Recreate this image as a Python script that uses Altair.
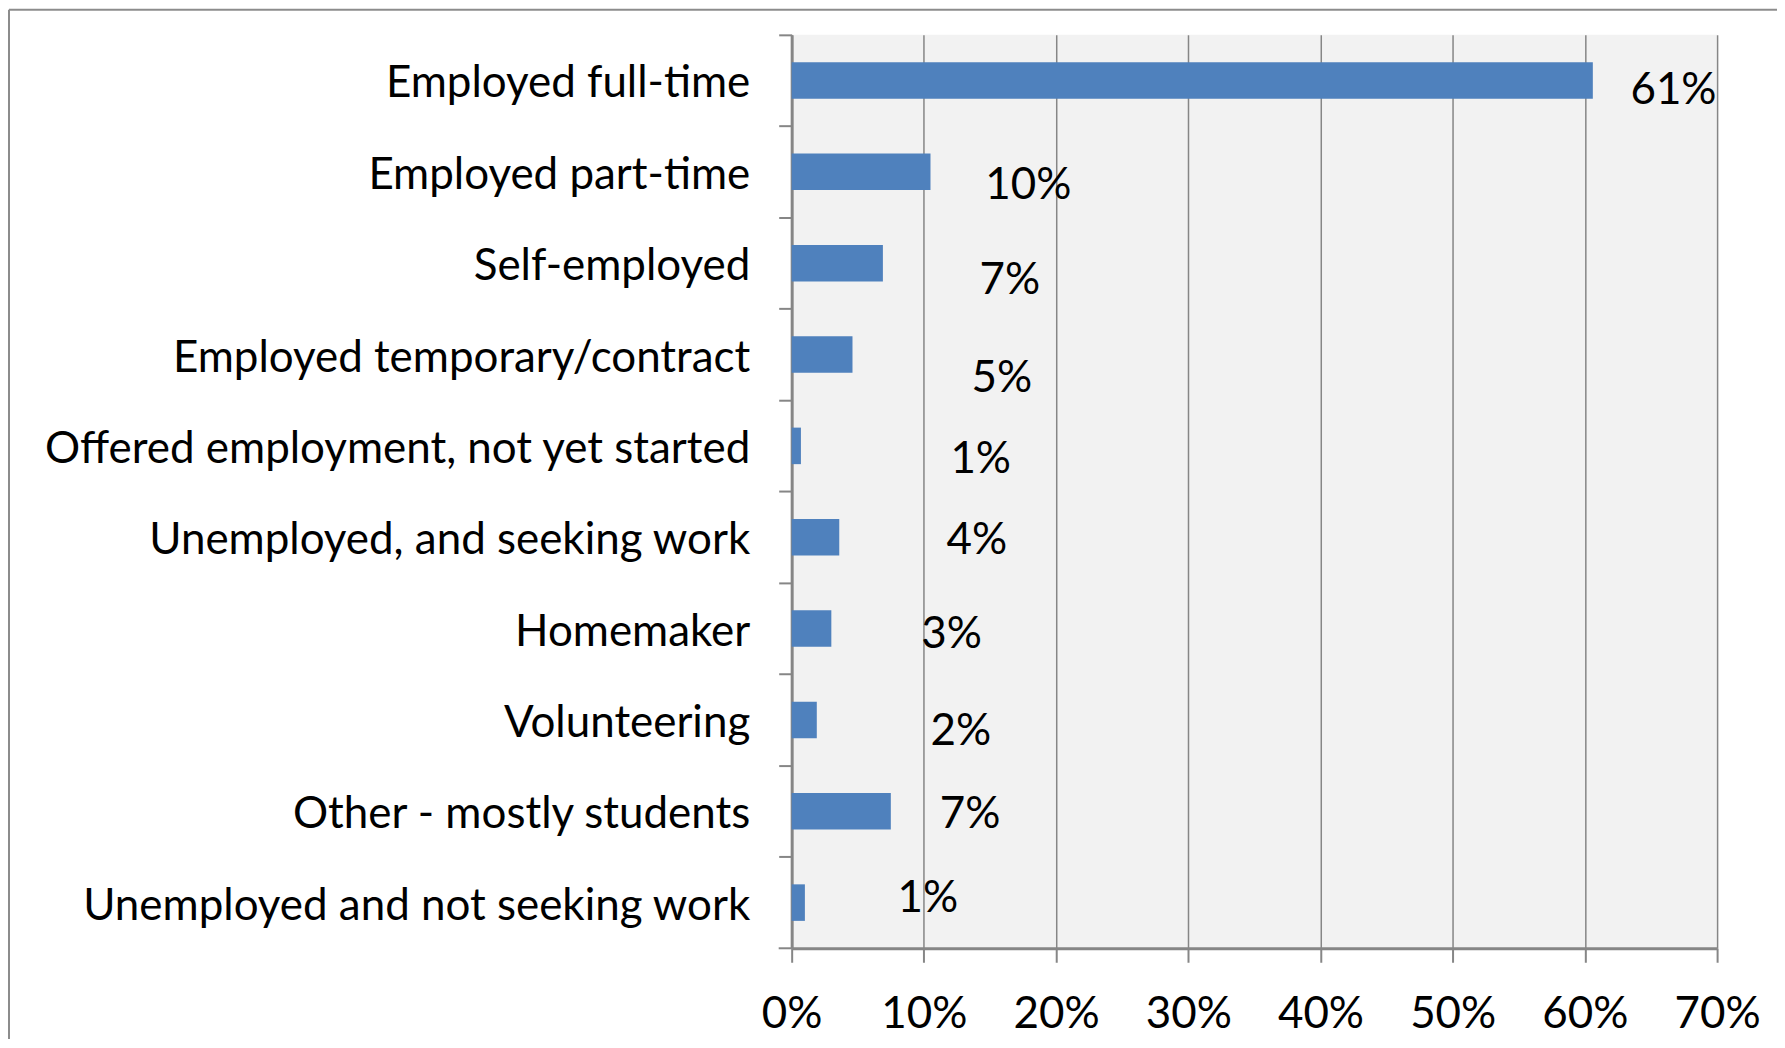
import altair as alt
import pandas as pd

categories = [
    "Employed full-time",
    "Employed part-time",
    "Self-employed",
    "Employed temporary/contract",
    "Offered employment, not yet started",
    "Unemployed, and seeking work",
    "Homemaker",
    "Volunteering",
    "Other - mostly students",
    "Unemployed and not seeking work",
]
values = [60.6, 10.5, 6.9, 4.6, 0.7, 3.6, 3.0, 1.9, 7.5, 1.0]
labels = ["61%", "10%", "7%", "5%", "1%", "4%", "3%", "2%", "7%", "1%"]
# where the (hand-moved) data labels sit: x in axis units, y nudge in category rows
label_x = [66.7, 17.9, 16.5, 15.9, 14.3, 14.0, 12.1, 12.8, 13.5, 10.3]
label_row_nudge = [0.066, 0.109, 0.153, 0.219, 0.109, 0.0, 0.022, 0.087, 0.0, -0.087]
x_ticks = [0, 10, 20, 30, 40, 50, 60, 70]

df = pd.DataFrame({
    "category": categories,
    "row": list(range(len(categories))),
    "value": values,
    "label": labels,
    "label_x": label_x,
    "nudge": label_row_nudge,
})

W, H = 927, 915
FONT = "Lato"
FS = 44
GRAY = "#868686"
n = len(categories)

y_enc = alt.Y(
    "category:N",
    sort=categories,
    scale=alt.Scale(paddingInner=0, paddingOuter=0),
    axis=alt.Axis(
        title=None,
        labelFont=FONT,
        labelFontSize=FS,
        labelColor="black",
        labelPadding=29,
        labelOffset=4,
        labelLimit=0,
        tickSize=13,
        tickColor=GRAY,
        tickWidth=2,
        domainColor=GRAY,
        domainWidth=3,
        bandPosition=0,
        grid=False,
    ),
)

x_enc = alt.X(
    "value:Q",
    scale=alt.Scale(domain=[0, 70], nice=False),
    axis=alt.Axis(
        title=None,
        values=x_ticks,
        labelExpr="datum.value + '%'",
        labelFont=FONT,
        labelFontSize=FS,
        labelColor="black",
        labelPadding=30,
        labelFlush=False,
        tickSize=14,
        tickColor=GRAY,
        tickWidth=2,
        domainColor=GRAY,
        domainWidth=3,
        grid=True,
        gridColor=GRAY,
        gridWidth=1.5,
    ),
)

bars = alt.Chart(df).mark_bar(
    color="#4F81BD", height=alt.RelativeBandSize(0.4)
).encode(x=x_enc, y=y_enc)

text = alt.Chart(df).transform_calculate(
    pos="datum.row + datum.nudge"
).mark_text(
    font=FONT, fontSize=FS, color="black", align="center", baseline="middle", dy=4
).encode(
    x=alt.X("label_x:Q"),
    y=alt.Y("pos:Q", scale=alt.Scale(domain=[n - 0.5, -0.5], nice=False, zero=False), axis=None),
    text="label:N",
)

one = pd.DataFrame({"k": [0]})
bottom_tick = alt.Chart(one).mark_rule(color=GRAY, strokeWidth=2).encode(
    x=alt.value(-13), x2=alt.value(0), y=alt.value(H)
)
frame_top = alt.Chart(one).mark_rule(color="#8c8c8c", strokeWidth=2, clip=False).encode(
    x=alt.value(-784), x2=alt.value(W + 70), y=alt.value(-25)
)
frame_left = alt.Chart(one).mark_rule(color="#8c8c8c", strokeWidth=2, clip=False).encode(
    x=alt.value(-784), y=alt.value(-25), y2=alt.value(H + 100)
)

chart = alt.layer(bars, text, bottom_tick, frame_top, frame_left).resolve_scale(
    y="independent"
).properties(
    width=W,
    height=H,
    padding={"left": 785, "top": 26, "right": 60, "bottom": 90},
    autosize=alt.AutoSizeParams(type="none"),
    background="white",
).configure_view(fill="#F2F2F2", stroke=None)

chart.save("out.html", embed_options={"renderer": "svg", "actions": False})
